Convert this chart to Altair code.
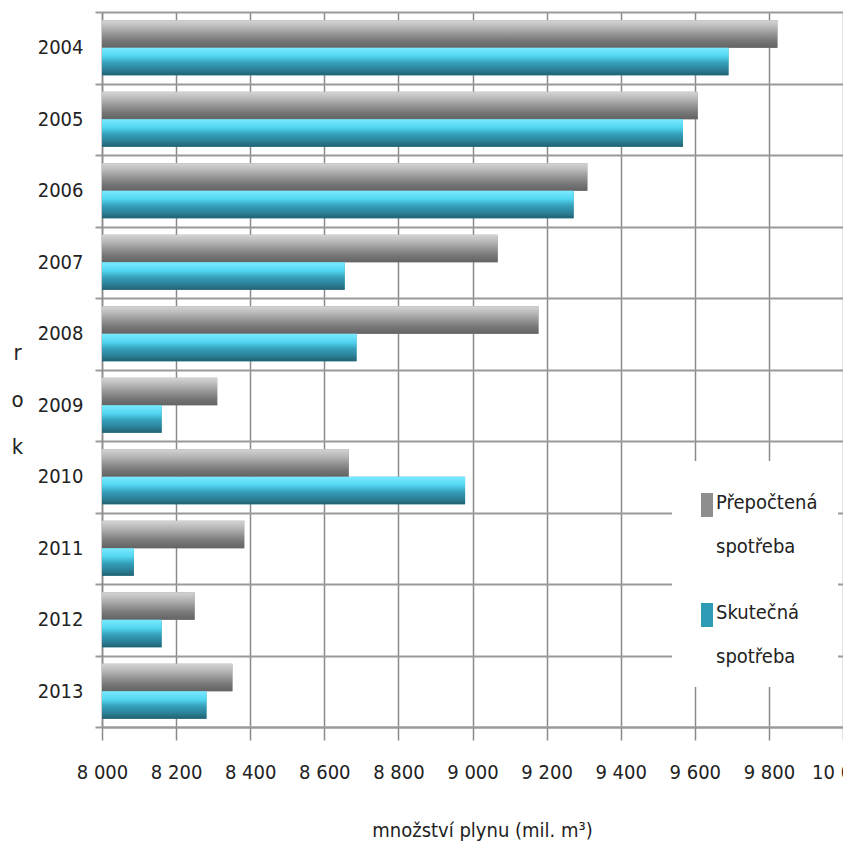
import altair as alt
import pandas as pd

FONT = "'Liberation Sans Narrow', 'DejaVu Sans Condensed', sans-serif"
TEXT = "#222222"
FS = 20

years = ["2004", "2005", "2006", "2007", "2008", "2009", "2010", "2011", "2012", "2013"]
prepoctena = [9823, 9608, 9310, 9068, 9178, 8311, 8666, 8384, 8250, 8352]
skutecna = [9691, 9568, 9273, 8655, 8687, 8161, 8980, 8086, 8161, 8282]
series_names = ["Přepočtená spotřeba", "Skutečná spotřeba"]
series_colors = ["#8e8e8e", "#2f9ab3"]
x_ticks = [8000, 8200, 8400, 8600, 8800, 9000, 9200, 9400, 9600, 9800, 10000]

rows = []
for i, y in enumerate(years):
    rows.append({"rok": y, "serie": series_names[0], "hodnota": prepoctena[i]})
    rows.append({"rok": y, "serie": series_names[1], "hodnota": skutecna[i]})
df = pd.DataFrame(rows)

gray_grad = alt.Gradient(
    gradient="linear", x1=0, x2=0, y1=0, y2=1,
    stops=[
        alt.GradientStop(color="#d4d4d4", offset=0),
        alt.GradientStop(color="#b8b8b8", offset=0.25),
        alt.GradientStop(color="#969696", offset=0.5),
        alt.GradientStop(color="#777777", offset=0.75),
        alt.GradientStop(color="#636363", offset=1),
    ],
)
cyan_grad = alt.Gradient(
    gradient="linear", x1=0, x2=0, y1=0, y2=1,
    stops=[
        alt.GradientStop(color="#7aeaff", offset=0),
        alt.GradientStop(color="#52d6f2", offset=0.3),
        alt.GradientStop(color="#359fba", offset=0.55),
        alt.GradientStop(color="#2b8198", offset=0.8),
        alt.GradientStop(color="#22606f", offset=1),
    ],
)

y_enc = alt.Y(
    "rok:N", sort=years,
    scale=alt.Scale(paddingInner=0, paddingOuter=0),
    axis=alt.Axis(
        title=["r", "o", "k"], titleAngle=0, titleX=-85, titleY=340,
        titleAlign="center", titleBaseline="middle", titleLineHeight=47,
        titleFont=FONT, titleFontSize=22, titleFontWeight="normal", titleColor=TEXT,
        tickBand="extent", grid=True, gridColor="#9a9a9a", gridWidth=2,
        ticks=True, tickSize=7, tickColor="#9a9a9a", tickWidth=2,
        domainColor="#8a8a8a", domainWidth=1.5,
        labelFont=FONT, labelFontSize=FS, labelColor=TEXT, labelPadding=12,
    ),
)
yoff_enc = alt.YOffset(
    "serie:N", sort=series_names,
    scale=alt.Scale(domain=series_names, paddingInner=0, paddingOuter=0.3),
)
x_enc = alt.X(
    "hodnota:Q",
    scale=alt.Scale(domain=[8000, 10000], zero=False, nice=False, clamp=True),
    axis=alt.Axis(
        values=x_ticks,
        labelExpr="replace(format(datum.value, ','), ',', ' ')",
        title="množství plynu (mil. m³)", titleX=380, titleY=103,
        titleAlign="center", titleBaseline="middle",
        titleFont=FONT, titleFontSize=FS, titleFontWeight="normal", titleColor=TEXT,
        grid=True, gridColor="#8a8a8a", gridWidth=1.5,
        tickSize=13, tickColor="#8a8a8a", tickWidth=1.5,
        domainColor="#9a9a9a", domainWidth=2,
        labelFont=FONT, labelFontSize=FS, labelColor=TEXT, labelPadding=22,
        labelFlush=False, labelOverlap=False, labelBound=False,
    ),
)

base = alt.Chart(df).encode(y=y_enc, yOffset=yoff_enc, x=x_enc)

solid = base.mark_bar().encode(
    color=alt.Color(
        "serie:N",
        scale=alt.Scale(domain=series_names, range=series_colors),
        legend=alt.Legend(
            title=None, orient="none", legendX=570, legendY=449,
            fillColor="white", padding=20,
            symbolType="M-0.25,0L0.75,0L0.75,2L-0.25,2Z", symbolSize=576,
            symbolStrokeWidth=0,
            labelFont=FONT, labelFontSize=FS, labelColor=TEXT,
            labelBaseline="top",
            labelExpr="split(datum.label, ' ')",
            labelOffset=0, rowPadding=34, labelLimit=0,
        ),
    )
)
gray_layer = base.transform_filter(alt.datum.serie == series_names[0]).mark_bar(fill=gray_grad)
cyan_layer = base.transform_filter(alt.datum.serie == series_names[1]).mark_bar(fill=cyan_grad)

chart = (
    alt.layer(solid, gray_layer, cyan_layer)
    .properties(
        width=741, height=715,
        autosize=alt.AutoSizeParams(type="none"),
        padding={"left": 102, "top": 12, "right": 0, "bottom": 121},
        background="white",
    )
    .configure(style={"guide-label": {"lineHeight": 44}})
    .configure_view(strokeWidth=0)
)

chart.save("out.html", embed_options={"renderer": "svg", "actions": False})
